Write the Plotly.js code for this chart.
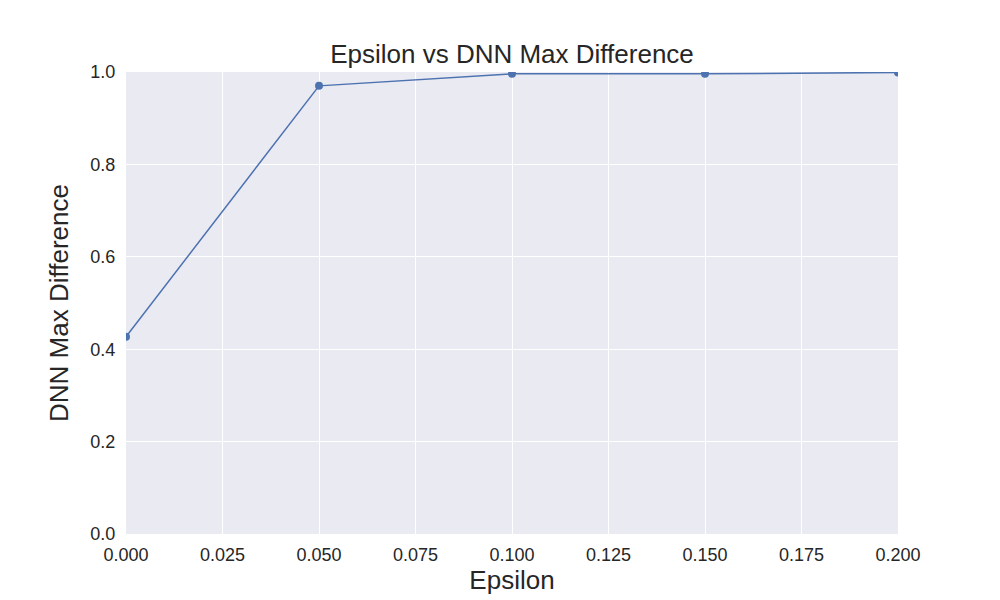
<!DOCTYPE html>
<html>
<head>
<script src="https://cdn.plot.ly/plotly-3.0.1.min.js"></script>
<style>body{margin:0}</style>
</head>
<body>
<div id="plot" style="width:1000px;height:600px"></div>
<script>
var epsilon = [0, 0.05, 0.1, 0.15, 0.2];
var maxDiff = [0.427, 0.970, 0.996, 0.996, 0.999];

var trace = {
    type: 'scatter',
    mode: 'lines+markers',
    x: epsilon,
    y: maxDiff,
    line: {color: '#4C72B0', width: 1.5},
    marker: {color: '#4C72B0', size: 8}
};

var layout = {
    title: {text: 'Epsilon vs DNN Max Difference', x: 0.512, y: 0.91, yanchor: 'middle',
            font: {size: 26, color: '#262626'}},
    font: {family: 'Liberation Sans, Arial, sans-serif', color: '#262626'},
    paper_bgcolor: 'white',
    plot_bgcolor: '#EAEAF2',
    margin: {l: 126, r: 102, t: 72, b: 66},
    showlegend: false,
    xaxis: {
        range: [0, 0.2], dtick: 0.025, tickformat: '.3f',
        gridcolor: 'white', gridwidth: 1.2, zeroline: false, showline: false,
        tickfont: {size: 18}, ticks: 'outside', ticklen: 4, tickcolor: 'rgba(0,0,0,0)',
        title: {text: 'Epsilon', font: {size: 26}, standoff: 4}
    },
    yaxis: {
        range: [0, 1], dtick: 0.2, tickformat: '.1f',
        gridcolor: 'white', gridwidth: 1.2, zeroline: false, showline: false,
        tickfont: {size: 18}, ticks: 'outside', ticklen: 6, tickcolor: 'rgba(0,0,0,0)',
        title: {text: 'DNN Max Difference', font: {size: 26}, standoff: 14}
    }
};

Plotly.newPlot('plot', [trace], layout, {displayModeBar: false});
</script>
</body>
</html>
